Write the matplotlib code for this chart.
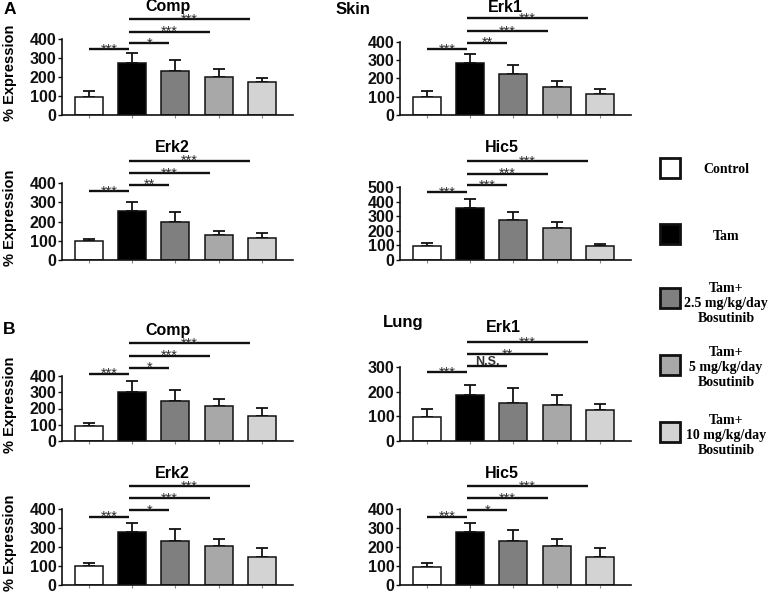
import matplotlib
matplotlib.use("Agg")
import matplotlib.pyplot as plt
from matplotlib.patches import Rectangle
import numpy as np

W, H = 770, 594

# ---------------- data ----------------
groups = ["Control", "Tam", "Tam+ 2.5 mg/kg/day Bosutinib",
          "Tam+ 5 mg/kg/day Bosutinib", "Tam+ 10 mg/kg/day Bosutinib"]
legend_labels = ["Control", "Tam", "Tam+\n2.5 mg/kg/day\nBosutinib",
                 "Tam+\n5 mg/kg/day\nBosutinib", "Tam+\n10 mg/kg/day\nBosutinib"]
bar_colors = ["#ffffff", "#000000", "#7f7f7f", "#a8a8a8", "#d3d3d3"]

sig_pairs = [(0, 1), (1, 2), (1, 3), (1, 4)]

# Skin (A)
skin_comp_mean = [95, 274, 232, 200, 174]
skin_comp_err = [31, 52, 58, 42, 21]
skin_comp_sig = ["***", "*", "***", "***"]
skin_comp_sig_y = [346, 377, 438, 505]

skin_erk1_mean = [100, 283, 225, 152, 115]
skin_erk1_err = [31, 51, 51, 34, 29]
skin_erk1_sig = ["***", "**", "***", "***"]
skin_erk1_sig_y = [360, 396, 460, 530]

skin_erk2_mean = [99, 255, 200, 128, 113]
skin_erk2_err = [10, 45, 48, 25, 26]
skin_erk2_sig = ["***", "**", "***", "***"]
skin_erk2_sig_y = [356, 391, 452, 516]

skin_hic5_mean = [95, 359, 273, 218, 95]
skin_hic5_err = [23, 61, 54, 39, 16]
skin_hic5_sig = ["***", "***", "***", "***"]
skin_hic5_sig_y = [466, 511, 591, 675]

# Lung (B)
lung_comp_mean = [92, 303, 248, 215, 156]
lung_comp_err = [17, 68, 64, 45, 49]
lung_comp_sig = ["***", "*", "***", "***"]
lung_comp_sig_y = [414, 451, 525, 601]

lung_erk1_mean = [98, 185, 153, 144, 124]
lung_erk1_err = [30, 43, 60, 43, 27]
lung_erk1_sig = ["***", "N.S.", "**", "***"]
lung_erk1_sig_y = [280, 303, 353, 401]

lung_erk2_mean = [98, 280, 233, 205, 147]
lung_erk2_err = [19, 48, 60, 35, 46]
lung_erk2_sig = ["***", "*", "***", "***"]
lung_erk2_sig_y = [359, 395, 456, 519]

lung_hic5_mean = [97, 280, 233, 203, 145]
lung_hic5_err = [20, 48, 58, 37, 48]
lung_hic5_sig = ["***", "*", "***", "***"]
lung_hic5_sig_y = [359, 395, 456, 519]

ticks_400 = [0, 100, 200, 300, 400]
ticks_500 = [0, 100, 200, 300, 400, 500]
ticks_300 = [0, 100, 200, 300]

SANS = "Liberation Sans"
SERIF = "Liberation Serif"

fig = plt.figure(figsize=(W / 100, H / 100), dpi=100)


def fx(x):
    return x / W


def fy(y):
    return 1 - y / H


def draw_panel(rect, title, title_xy, means, errs, yticks, sig_labels, sig_y, ylabel):
    l, t, r, b = rect
    ax = fig.add_axes([fx(l), fy(b), (r - l) / W, (b - t) / H])
    x = np.arange(len(means))
    ax.errorbar(x, means, yerr=[np.zeros(len(errs)), errs], fmt="none",
                ecolor="#111111", elinewidth=1.3, capsize=4.6, capthick=1.3, zorder=1)
    ax.bar(x, means, width=0.65, color=bar_colors, edgecolor="#111111",
           linewidth=1.1, zorder=2)
    ax.set_xlim(-0.62, 4.72)
    ax.set_ylim(0, yticks[-1])
    ax.set_yticks(yticks)
    ax.set_yticklabels([str(v) for v in yticks], fontfamily=SANS,
                       fontweight="bold", fontsize=11.5)
    ax.set_xticks(x)
    ax.set_xticklabels([])
    ax.tick_params(axis="y", length=3, width=1, pad=1, colors="#111111")
    ax.tick_params(axis="x", length=2, width=0.8, colors="#888888")
    for s in ["top", "right"]:
        ax.spines[s].set_visible(False)
    for s in ["left", "bottom"]:
        ax.spines[s].set_linewidth(1.2)
        ax.spines[s].set_color("#111111")
    # significance lines
    for (i, j), lab, yv in zip(sig_pairs, sig_labels, sig_y):
        x1, x2 = 0.93 * i, 0.93 * j
        ax.plot([x1, x2], [yv, yv], color="#111111", lw=1.7, clip_on=False,
                solid_capstyle="butt", zorder=3)
        if lab == "N.S.":
            ax.annotate(lab, xy=((x1 + x2) / 2, yv), xytext=(0, 0.8),
                        textcoords="offset points", ha="center", va="baseline",
                        fontsize=9, fontweight="bold", fontfamily=SANS,
                        color="#333333", annotation_clip=False)
        else:
            ax.annotate(lab, xy=((x1 + x2) / 2, yv), xytext=(0, -3.2),
                        textcoords="offset points", ha="center", va="baseline",
                        fontsize=10.5, fontfamily=SANS, color="#2a2a2a",
                        annotation_clip=False)
    fig.text(fx(title_xy[0]), fy(title_xy[1]), title, ha="center", va="center",
             fontfamily=SANS, fontweight="bold", fontsize=11.5)
    if ylabel:
        fig.text(fx(10), fy((t + b) / 2 - 4), "% Expression", rotation=90,
                 ha="center", va="center", fontfamily=SANS, fontweight="bold",
                 fontsize=10.5)
    return ax


draw_panel((62, 39, 293, 115), "Comp", (168, 7), skin_comp_mean, skin_comp_err,
           ticks_400, skin_comp_sig, skin_comp_sig_y, True)
draw_panel((400, 42, 631, 115), "Erk1", (505, 7), skin_erk1_mean, skin_erk1_err,
           ticks_400, skin_erk1_sig, skin_erk1_sig_y, False)
draw_panel((62, 183, 293, 260), "Erk2", (172, 148), skin_erk2_mean, skin_erk2_err,
           ticks_400, skin_erk2_sig, skin_erk2_sig_y, True)
draw_panel((400, 187, 631, 260), "Hic5", (502, 148), skin_hic5_mean, skin_hic5_err,
           ticks_500, skin_hic5_sig, skin_hic5_sig_y, False)
draw_panel((62, 376, 293, 441), "Comp", (168, 330), lung_comp_mean, lung_comp_err,
           ticks_400, lung_comp_sig, lung_comp_sig_y, True)
draw_panel((400, 367, 631, 441), "Erk1", (503, 327), lung_erk1_mean, lung_erk1_err,
           ticks_300, lung_erk1_sig, lung_erk1_sig_y, False)
draw_panel((62, 509, 293, 585), "Erk2", (172, 473), lung_erk2_mean, lung_erk2_err,
           ticks_400, lung_erk2_sig, lung_erk2_sig_y, True)
draw_panel((400, 509, 631, 585), "Hic5", (502, 473), lung_hic5_mean, lung_hic5_err,
           ticks_400, lung_hic5_sig, lung_hic5_sig_y, False)

# panel letters and section titles
fig.text(fx(10), fy(9), "A", ha="center", va="center", fontfamily=SANS,
         fontweight="bold", fontsize=12.5)
fig.text(fx(9), fy(329), "B", ha="center", va="center", fontfamily=SANS,
         fontweight="bold", fontsize=12.5)
fig.text(fx(353), fy(9), "Skin", ha="center", va="center", fontfamily=SANS,
         fontweight="bold", fontsize=12)
fig.text(fx(403), fy(323), "Lung", ha="center", va="center", fontfamily=SANS,
         fontweight="bold", fontsize=12)

# legend
leg_sq_y = [168, 234, 298, 365, 432]
leg_txt_y = [170, 237, 303, 368, 435]
for c, lab, sy, ty in zip(bar_colors, legend_labels, leg_sq_y, leg_txt_y):
    fig.patches.append(Rectangle((fx(660), fy(sy + 10)), 20 / W, 20 / H,
                                 transform=fig.transFigure, facecolor=c,
                                 edgecolor="#111111", linewidth=2.0))
    fig.text(fx(726), fy(ty), lab, ha="center", va="center", fontfamily=SERIF,
             fontweight="bold", fontsize=10, linespacing=1.2, multialignment="center")

fig.savefig("out.png", dpi=100)
